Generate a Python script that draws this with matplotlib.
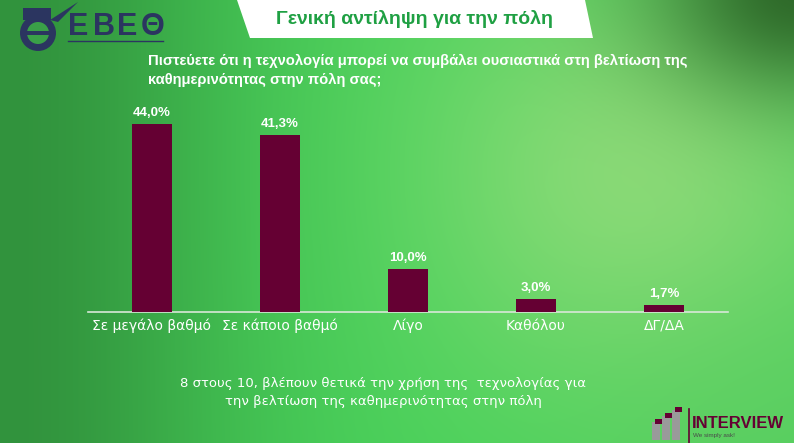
import numpy as np
import matplotlib
matplotlib.use("Agg")
import matplotlib.pyplot as plt
from matplotlib.patches import Polygon, Rectangle, Circle

categories = ["Σε μεγάλο βαθμό", "Σε κάποιο βαθμό", "Λίγο", "Καθόλου", "ΔΓ/ΔΑ"]
values = [44.0, 41.3, 10.0, 3.0, 1.7]
value_labels = ["44,0%", "41,3%", "10,0%", "3,0%", "1,7%"]

title = "Γενική αντίληψη για την πόλη"
question = "Πιστεύετε ότι η τεχνολογία μπορεί να συμβάλει ουσιαστικά στη βελτίωση της\nκαθημερινότητας στην πόλη σας;"
note = "8 στους 10, βλέπουν θετικά την χρήση της  τεχνολογίας για\nτην βελτίωση της καθημερινότητας στην πόλη"

plt.rcParams['font.family'] = ['Liberation Sans', 'DejaVu Sans']

W, H = 794, 443
fig = plt.figure(figsize=(W / 100, H / 100), dpi=100)

# background gradient
bg = fig.add_axes([0, 0, 1, 1])
yy, xx = np.mgrid[0:H, 0:W].astype(float)
def hex2rgb(h):
    h = h.lstrip('#')
    return np.array([int(h[i:i + 2], 16) / 255 for i in (0, 2, 4)])
img = np.ones((H, W, 3)) * hex2rgb('#48d25a')
def blend(img, w, col):
    w = np.clip(w, 0, 1)[..., None]
    return img * (1 - w) + w * hex2rgb(col)
img = blend(img, np.exp(-((xx) / 230) ** 2) * 0.9, '#2f8c3a')
img = blend(img, np.exp(-(((xx - 650) / 230) ** 2 + ((yy - 170) / 230) ** 2)) * 0.95, '#90dc7a')
img = blend(img, np.exp(-(((xx - 800) / 150) ** 2 + ((yy + 10) / 110) ** 2)) * 1.0, '#2f6a2a')
img = blend(img, np.exp(-(((xx - 780) / 200) ** 2 + ((yy - 440) / 200) ** 2)) * 0.5, '#5fcb62')
bg.imshow(img, extent=[0, W, H, 0], aspect='auto')
bg.set_xlim(0, W)
bg.set_ylim(H, 0)
bg.axis('off')

# title box
bg.add_patch(Polygon([[237, 0], [585, 0], [593, 38], [250, 38]], closed=True,
                     facecolor='white', edgecolor='none'))
bg.text(414, 19, title, color='#1fa043', fontsize=14, fontweight='bold',
        ha='center', va='center')

# question
bg.text(148, 70, question, color='white', fontsize=10.6, fontweight='bold',
        ha='left', va='center', linespacing=1.45)

# bottom note
bg.text(383, 393, note, color='white', fontsize=9.5, ha='center', va='center',
        linespacing=1.5, family='DejaVu Sans')

# EBEΘ logo (decoration)
navy = '#2b3560'
bg.add_patch(Circle((38, 33), 18, facecolor=navy, edgecolor='none'))
bg.add_patch(Circle((38, 33), 11, facecolor='#3aa048', edgecolor='none'))
bg.add_patch(Rectangle((27, 31), 22, 4, facecolor=navy, edgecolor='none'))
bg.add_patch(Rectangle((23, 8), 28, 12, facecolor=navy, edgecolor='none'))
bg.add_patch(Polygon([[50, 20], [78, 2], [70, 10], [58, 22]], closed=True, facecolor=navy))
for lx, ch in zip([68, 93, 117, 141], "ΕΒΕΘ"):
    bg.text(lx, 27, ch, color=navy, fontsize=22, fontweight='bold', ha='left', va='center')
bg.plot([68, 163], [41, 41], color=navy, lw=1)

# INTERVIEW logo (decoration)
for x0, h in [(652, 18), (662, 24), (672, 30)]:
    bg.add_patch(Rectangle((x0, 440 - h), 8, h, facecolor='#9a9a9a', edgecolor='none'))
    bg.add_patch(Rectangle((x0 + 3, 437 - h), 7, 5, facecolor='#650033', edgecolor='none'))
bg.plot([689, 689], [409, 443], color='#650033', lw=1.2)
bg.text(692, 424, "INTERVIEW", color='#650033', fontsize=12, fontweight='bold',
        ha='left', va='center')
bg.text(693, 435, "We simply ask!", color='#4a4a4a', fontsize=4.5, ha='left', va='center')

# chart
ax = fig.add_axes([88 / W, (H - 312) / H, 640 / W, 214 / H])
ax.patch.set_alpha(0)
x = np.arange(len(categories))
ax.bar(x, values, width=0.31, color='#650033', zorder=3)
for xi, v, lab in zip(x, values, value_labels):
    ax.text(xi, v + 1.2, lab, color='white', fontsize=9.5, fontweight='bold',
            ha='center', va='bottom')
ax.set_xlim(-0.5, 4.5)
ax.set_ylim(0, 50)
ax.set_xticks(x)
ax.set_xticklabels(categories, color='white', fontsize=10, family='DejaVu Sans')
ax.tick_params(axis='x', length=0, pad=5)
ax.set_yticks([])
for s in ['top', 'right', 'left']:
    ax.spines[s].set_visible(False)
ax.spines['bottom'].set_color('#d8e8d8')
ax.spines['bottom'].set_linewidth(1.2)

fig.savefig('out.png', dpi=100)
